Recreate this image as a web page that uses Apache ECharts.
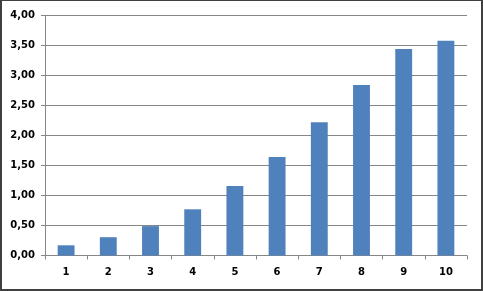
<!DOCTYPE html>
<html><head><meta charset="utf-8">
<script src="https://cdn.jsdelivr.net/npm/echarts@6/dist/echarts.min.js"></script>
<style>
html,body{margin:0;padding:0;background:#fff;}
#wrap{position:absolute;left:0;top:0;width:483px;height:291px;box-sizing:border-box;border-style:solid;border-color:#404040;border-width:1px 2px 2px 2px;}
#c{position:absolute;left:0;top:0;width:483px;height:291px;}
</style></head>
<body>
<div id="c"></div><div id="wrap"></div>
<script>
var categories = ['1','2','3','4','5','6','7','8','9','10'];
var values = [0.17, 0.305, 0.49, 0.77, 1.16, 1.64, 2.22, 2.84, 3.44, 3.58];
var yMin = 0, yMax = 4, yStep = 0.5;

var chart = echarts.init(document.getElementById('c'), null, {renderer:'canvas'});
var font = {fontFamily:'DejaVu Sans', fontWeight:'bold', fontSize:10, color:'#000'};
chart.setOption({
  animation:false,
  grid:{left:45, right:16, top:15.5, bottom:35.5, containLabel:false},
  xAxis:{type:'category', data:categories,
    axisLine:{lineStyle:{color:'#868686', width:1}},
    axisTick:{show:true, alignWithLabel:false, length:4, inside:false, lineStyle:{color:'#868686'}},
    axisLabel:Object.assign({margin:12, interval:0}, font),
    splitLine:{show:false}},
  yAxis:{type:'value', min:yMin, max:yMax, interval:yStep,
    axisLine:{show:true, lineStyle:{color:'#868686', width:1}},
    axisTick:{show:true, length:4, lineStyle:{color:'#868686'}},
    axisLabel:Object.assign({margin:10, formatter:function(v){return v.toFixed(2).replace('.',',');}}, font),
    splitLine:{show:true, lineStyle:{color:'#868686', width:1}}},
  series:[{type:'bar', data:values, barWidth:'40%', itemStyle:{color:'#4F81BD'}}]
});
</script>
</body></html>
